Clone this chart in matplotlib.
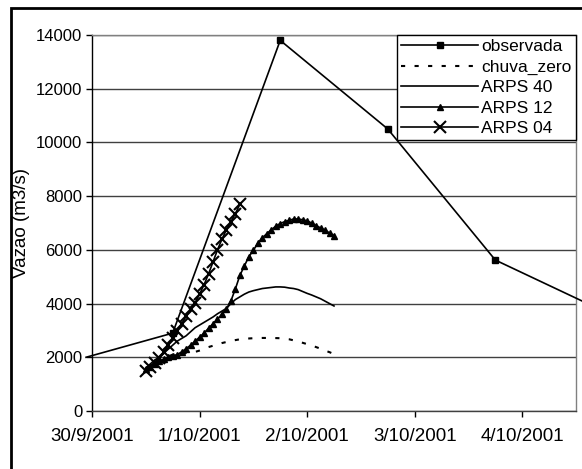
import pandas as pd
import numpy as np
from matplotlib import pyplot as plt
import matplotlib.dates as mdates
from matplotlib.patches import Rectangle
from matplotlib.ticker import FuncFormatter

plt.rcParams['font.family'] = ['Liberation Sans', 'DejaVu Sans']

# observed discharge (roughly 6-hourly readings, first/last partly outside the axes)
obs_time = ['2001-09-29 22:40', '2001-09-30 18:00', '2001-10-01 18:00',
            '2001-10-02 18:00', '2001-10-03 18:00', '2001-10-04 18:00']
obs_vals = [2000, 2900, 13800, 10500, 5620, 3730]

# model runs, hourly from 30/9 12:00
arps40 = [1600, 1750, 1900, 2000, 2150, 2300, 2450, 2600, 2700, 2800, 2950,
          3100, 3200, 3300, 3400, 3500, 3620, 3720, 3820, 4000, 4150, 4250,
          4350, 4430, 4480, 4520, 4560, 4580, 4600, 4620, 4620, 4610, 4580,
          4560, 4520, 4450, 4380, 4320, 4250, 4180, 4090, 4000, 3910]
arps12 = [1550, 1650, 1750, 1850, 1930, 2000, 2050, 2100, 2200, 2320, 2450,
          2600, 2750, 2900, 3080, 3250, 3420, 3600, 3800, 4100, 4550, 5050,
          5400, 5750, 5980, 6250, 6450, 6600, 6750, 6880, 6980, 7050, 7100,
          7150, 7150, 7120, 7080, 7000, 6900, 6820, 6730, 6630, 6530]
chuva_zero = [1550, 1650, 1750, 1850, 1950, 2030, 2100, 2130, 2150, 2160,
              2180, 2200, 2250, 2310, 2380, 2430, 2480, 2530, 2570, 2610,
              2640, 2670, 2690, 2700, 2710, 2715, 2720, 2720, 2720, 2715,
              2710, 2690, 2670, 2630, 2590, 2540, 2490, 2440, 2380, 2320,
              2250, 2190, 2120]
arps04 = [1500, 1650, 1800, 1980, 2200, 2450, 2700, 2980, 3250, 3520, 3780,
          4030, 4350, 4700, 5100, 5550, 6000, 6400, 6750, 7050, 7350, 7700]

tick_days = ['2001-09-30', '2001-10-01', '2001-10-02', '2001-10-03', '2001-10-04']

t_model = pd.date_range('2001-09-30 12:00', periods=len(arps40), freq='h')
t_04 = t_model[:len(arps04)]
t_obs = pd.to_datetime(obs_time)

fig = plt.figure(figsize=(5.82, 4.69), dpi=100)
ax = fig.add_axes([92/582, 1-411/469, (576-92)/582, (411-35)/469])

lw = 1.2
ax.plot(t_obs, obs_vals, color='black', lw=lw, marker='s', ms=5,
        markevery=list(range(1, len(obs_vals))), clip_on=False, label='observada', zorder=5)
ax.plot(t_model, chuva_zero, color='black', lw=1.5, linestyle=(0, (2, 4.5)), label='chuva_zero')
ax.plot(t_model, arps40, color='black', lw=lw, label='ARPS 40')
ax.plot(t_model, arps12, color='black', lw=lw, marker='^', ms=3.8, label='ARPS 12')
ax.plot(t_04, arps04, color='black', lw=lw, marker='x', ms=9, mew=1.5, label='ARPS 04')

ax.set_ylim(0, 14000)
ax.set_yticks(range(0, 14001, 2000))
ax.set_xlim(pd.Timestamp('2001-09-30'), pd.Timestamp('2001-10-04 12:00'))
ax.set_xticks(pd.to_datetime(tick_days))
ax.xaxis.set_major_formatter(FuncFormatter(
    lambda v, p: '%d/%d/%d' % (mdates.num2date(v).day, mdates.num2date(v).month, mdates.num2date(v).year)))

ax.grid(axis='y', color='#404040', lw=1)
ax.set_axisbelow(True)
ax.tick_params(axis='both', direction='out', length=4, width=1, color='black')
ax.tick_params(axis='y', labelsize=12, pad=3)
ax.tick_params(axis='x', labelsize=13.5, pad=8)
ax.spines['left'].set_color('black')
ax.spines['bottom'].set_color('#404040')
ax.spines['top'].set_color('#808080')
ax.spines['right'].set_color('#808080')
for s in ax.spines.values():
    s.set_linewidth(1)

ax.set_ylabel('Vazao (m3/s)', fontsize=13.5, labelpad=4)

leg = ax.legend(loc='upper right', bbox_to_anchor=(1, 1), borderaxespad=0,
                fontsize=12.5, handlelength=4.4, handletextpad=0.2, labelspacing=0.3,
                borderpad=0.25, fancybox=False, framealpha=1, edgecolor='black',
                numpoints=1)
leg.get_frame().set_linewidth(1)

fig.patches.append(Rectangle((11/582, -0.1), 1.2, 1-8/469+0.1, transform=fig.transFigure,
                             fill=False, lw=2, edgecolor='black'))

fig.savefig('out.png', dpi=100)
